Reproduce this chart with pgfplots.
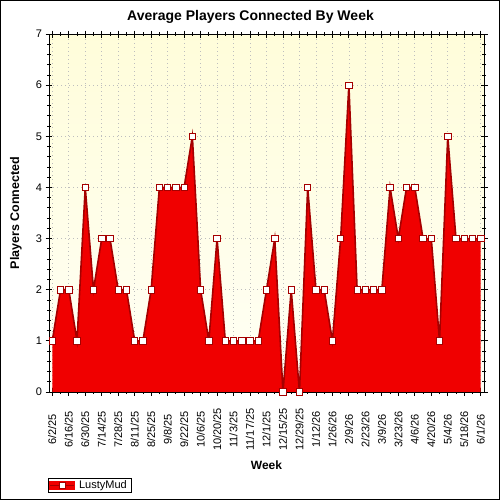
\documentclass[border=0pt]{standalone}
\usepackage{fontspec}
\setmainfont{Liberation Sans}
\usepackage{pgfplots}
\pgfplotsset{compat=1.18}
\usepackage{pgfplotstable}

\definecolor{areared}{RGB}{240,0,0}
\definecolor{linered}{RGB}{165,0,0}
\definecolor{bgtop}{RGB}{255,253,218}
\definecolor{bgbottom}{RGB}{255,255,246}
\definecolor{gridgray}{RGB}{190,190,190}

% weekly average of connected players, week 0 = 6/2/25
\pgfplotstableread{
wk players
0 1
1 2
2 2
3 1
4 4
5 2
6 3
7 3
8 2
9 2
10 1
11 1
12 2
13 4
14 4
15 4
16 4
17 5
18 2
19 1
20 3
21 1
22 1
23 1
24 1
25 1
26 2
27 3
28 0
29 2
30 0
31 4
32 2
33 2
34 1
35 3
36 6
37 2
38 2
39 2
40 2
41 4
42 3
43 4
44 4
45 3
46 3
47 1
48 5
49 3
50 3
51 3
52 3
}\players

\begin{document}
\begin{tikzpicture}
\useasboundingbox (0,0) rectangle (500bp,500bp);
\begin{axis}[
  scale only axis,
  width=435bp, height=358bp,
  at={(49bp,108bp)}, anchor=south west,
  xmin=-0.4, xmax=52.4,
  ymin=0, ymax=7,
  axis line style={black, line width=1bp},
  axis background/.style={top color=bgtop, bottom color=bgbottom},
  xtick={0,2,...,52},
  minor xtick={1,3,...,51},
  xticklabels={6/2/25,6/16/25,6/30/25,7/14/25,7/28/25,8/11/25,8/25/25,9/8/25,9/22/25,10/6/25,10/20/25,11/3/25,11/17/25,12/1/25,12/15/25,12/29/25,1/12/26,1/26/26,2/9/26,2/23/26,3/9/26,3/23/26,4/6/26,4/20/26,5/4/26,5/18/26,6/1/26},
  xticklabel style={rotate=90, anchor=center, xshift=-34bp, font=\fontsize{11bp}{13bp}\selectfont, inner sep=0bp},
  ytick={0,...,7},
  minor y tick num=4,
  yticklabel style={font=\fontsize{11bp}{13bp}\selectfont},
  /pgf/number format/assume math mode=true,
  tick align=center,
  major tick length=7bp,
  minor tick length=4bp,
  tick style={black, line width=0.8bp},
  xmajorgrids, ymajorgrids,
  major grid style={gridgray, line width=0.6bp, dash pattern=on 0.8bp off 3.2bp},
  title={Average Players Connected By Week},
  title style={font=\bfseries\fontsize{14bp}{16bp}\selectfont, at={(rel axis cs:0.5,1)}, anchor=center, yshift=11bp, xshift=-16bp},
  xlabel={Week},
  xlabel style={font=\bfseries\fontsize{12bp}{14bp}\selectfont, at={(rel axis cs:0.5,0)}, anchor=center, yshift=-73bp},
  ylabel={Players Connected},
  ylabel style={font=\bfseries\fontsize{12.5bp}{14bp}\selectfont, at={(rel axis cs:0,0.5)}, anchor=center, yshift=33bp},
  legend style={at={(rel axis cs:0,0)}, anchor=north west, yshift=-86bp, xshift=-1bp,
    draw=black, line width=1bp, fill=white, inner xsep=1bp, inner ysep=0.5bp,
    font=\fontsize{11bp}{13bp}\selectfont,
    nodes={inner xsep=4bp}},
  legend cell align=left,
  legend image code/.code={
    \fill[areared] (0bp,-3.5bp) rectangle (24bp,3.5bp);
    \draw[linered, line width=1.5bp] (0bp,0bp) -- (24bp,0bp);
    \draw[linered, fill=white, line width=0.8bp] (9bp,-3bp) rectangle (15bp,3bp);
  },
]
\addplot[fill=areared, draw=none, forget plot] table[x=wk, y=players] {\players} \closedcycle;
\addplot[linered, line width=1.6bp, mark=square*,
  mark options={fill=white, draw=linered, line width=0.8bp}, mark size=3.2bp]
  table[x=wk, y=players] {\players};
\addlegendentry{LustyMud}
\end{axis}
\draw[black, line width=1bp] (0.5bp,0.5bp) rectangle (499.5bp,499.5bp);
\end{tikzpicture}
\end{document}
